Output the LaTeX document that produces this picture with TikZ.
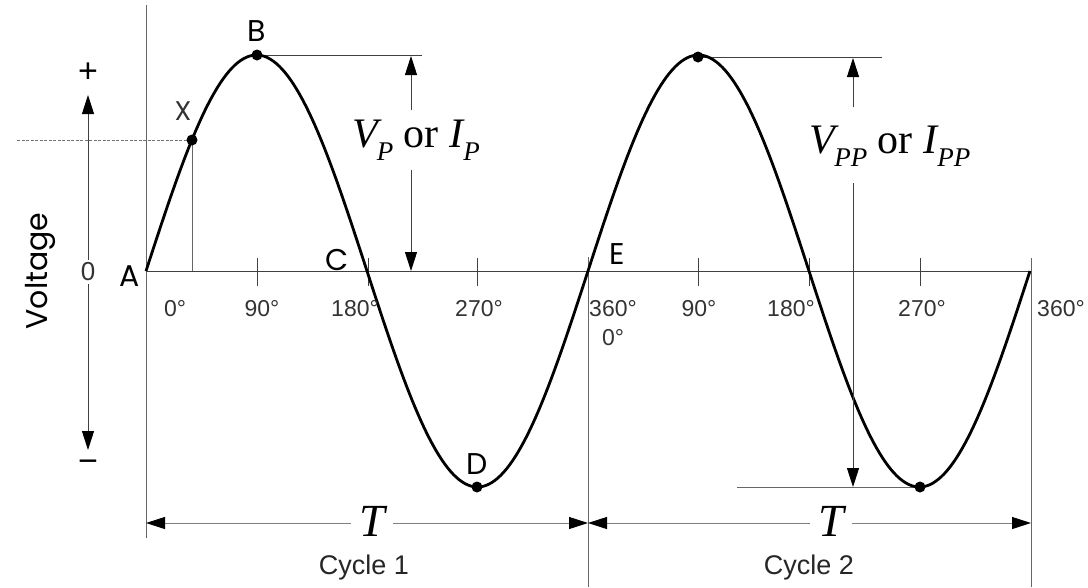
\documentclass[tikz,border=0pt]{standalone}
\usepackage{fontspec}
\setmainfont{Liberation Serif}
\newfontfamily\labfont{Poppins}
\newfontfamily\cycfont{Liberation Sans}
\usetikzlibrary{arrows.meta}
\begin{document}
\begin{tikzpicture}[x=1pt,y=-1pt,
  thinline/.style={draw=black!60, line width=1pt},
  axisline/.style={draw=black!75, line width=1pt},
  wave/.style={draw=black, line width=2.8pt},
  dimarrow/.style={draw=black!75, line width=0.9pt, -{Triangle[length=19pt,width=12pt,color=black]}},
  dimboth/.style={draw=black!50, line width=1pt, {Triangle[length=19pt,width=12pt,color=black]}-{Triangle[length=19pt,width=12pt,color=black]}},
  dot/.style={fill=black},
  ptlabel/.style={font=\labfont\fontsize{30}{30}\selectfont, inner sep=0pt},
  deglabel/.style={font=\cycfont\fontsize{23}{23}\selectfont, text=black!80, inner sep=0pt},
  biglabel/.style={font=\fontsize{42}{42}\selectfont, inner sep=0pt},
  tlabel/.style={font=\fontsize{46}{46}\selectfont\itshape, inner sep=0pt},
  cyclabel/.style={font=\cycfont\fontsize{27}{27}\selectfont, text=black!85, inner sep=0pt},
  signlabel/.style={font=\cycfont\fontsize{34}{34}\selectfont, inner sep=0pt}
]
\useasboundingbox (0,0) rectangle (1088,587);

% key coordinates
\coordinate (A) at (146,271);
\coordinate (Atop) at (146,5);
\coordinate (Abot) at (146,538);
\coordinate (E) at (588,271);
\coordinate (Etop) at (588,257);
\coordinate (Ebot) at (588,587);
\coordinate (F) at (1031,271);
\coordinate (Ftop) at (1031,258);
\coordinate (Fbot) at (1031,587);
\coordinate (B) at (257,55);
\coordinate (X) at (192,140);
\coordinate (Xax) at (192,271);
\coordinate (Xleft) at (17,140);
\coordinate (D) at (477,487);
\coordinate (P2) at (698,57);
\coordinate (D2) at (920,487);
\coordinate (Bline) at (422,55);
\coordinate (P2line) at (882,57);
\coordinate (D2line) at (737,487);

% frame lines
\draw[thinline] (Atop) -- (Abot);
\draw[thinline] (Etop) -- (Ebot);
\draw[thinline] (Ftop) -- (Fbot);
\draw[axisline] (A) -- (F);

% ticks
\foreach \tx in {257,368,477,698,809,920}
  \draw[axisline] (\tx,258) -- (\tx,286);

% X guide lines
\draw[thinline] (X) -- (Xax);
\draw[draw=black!55, line width=0.8pt, dash pattern=on 3pt off 1.5pt] (Xleft) -- (X);

% peak reference lines
\draw[axisline] (B) -- (Bline);
\draw[axisline] (P2) -- (P2line);
\draw[thinline] (D2line) -- (D2);

% waveform
\draw[wave] plot[domain=146:1030, samples=300] (\x, {271-216*sin(0.81448*(\x-146))});

% dots
\foreach \p in {B,X,D,P2,D2}
  \fill[dot] (\p) circle (5.5pt);

% point labels
\node[ptlabel] (lA) at (130,276) {A};
\node[ptlabel] (lB) at (257,31) {B};
\node[ptlabel] (lC) at (337,260) {C};
\node[ptlabel] (lD) at (477,464) {D};
\node[ptlabel] (lE) at (617,254) {E};
\node[ptlabel, font=\labfont\fontsize{27}{27}\selectfont, text=black!80] (lX) at (183,111) {X};

% degree labels
\node[deglabel] (d0) at (175,309) {0°};
\node[deglabel] (d90) at (262,309) {90°};
\node[deglabel] (d180) at (355,309) {180°};
\node[deglabel] (d270) at (479,309) {270°};
\node[deglabel] (d360) at (613,309) {360°};
\node[deglabel] (d0b) at (613,338) {0°};
\node[deglabel] (e90) at (699,309) {90°};
\node[deglabel] (e180) at (791,309) {180°};
\node[deglabel] (e270) at (922,309) {270°};
\node[deglabel] (e360) at (1061,309) {360°};

% voltage axis
\coordinate (vup) at (88,95);
\coordinate (vdown) at (88,450);
\node[deglabel, font=\cycfont\fontsize{26}{26}\selectfont, inner ysep=3pt] (zero) at (88,272) {0};
\draw[dimarrow] (zero.north) -- (vup);
\draw[dimarrow] (zero.south) -- (vdown);
\node[signlabel] (plus) at (88,73) {+};
\node[signlabel] (minus) at (88,466) {−};
\node[ptlabel, font=\labfont\fontsize{30}{30}\selectfont, rotate=90] (volt) at (40,271) {Voltage};

% Vp arrows
\node[biglabel] (vp) at (416,140) {\itshape V\kern-1pt\raisebox{-0.3em}{\fontsize{27}{27}\selectfont P}\upshape{} or \itshape I\raisebox{-0.3em}{\fontsize{27}{27}\selectfont P}};
\coordinate (vpa) at (411,110);
\coordinate (vpb) at (411,170);
\coordinate (vptop) at (411,56);
\coordinate (vpbot) at (411,271);
\draw[dimarrow] (vpa) -- (vptop);
\draw[dimarrow] (vpb) -- (vpbot);

% Vpp arrows
\node[biglabel] (vpp) at (890,146) {\itshape V\kern-1pt\raisebox{-0.3em}{\fontsize{27}{27}\selectfont PP}\upshape{} or \itshape I\raisebox{-0.3em}{\fontsize{27}{27}\selectfont PP}};
\coordinate (vppa) at (853,107);
\coordinate (vppb) at (853,183);
\coordinate (vpptop) at (853,58);
\coordinate (vppbot) at (853,487);
\draw[dimarrow] (vppa) -- (vpptop);
\draw[dimarrow] (vppb) -- (vppbot);

% period arrows
\coordinate (T1l) at (146,523);
\coordinate (T1r) at (588,523);
\coordinate (T2l) at (588,523);
\coordinate (T2r) at (1031,523);
\draw[dimboth] (T1l) -- (T1r);
\draw[dimboth] (T2l) -- (T2r);
\node[tlabel, fill=white, inner xsep=8pt, inner ysep=2pt] (T1) at (372,521) {T};
\node[tlabel, fill=white, inner xsep=8pt, inner ysep=2pt] (T2) at (831,521) {T};
\node[cyclabel] (c1) at (364,568) {Cycle 1};
\node[cyclabel] (c2) at (809,568) {Cycle 2};
\end{tikzpicture}
\end{document}
